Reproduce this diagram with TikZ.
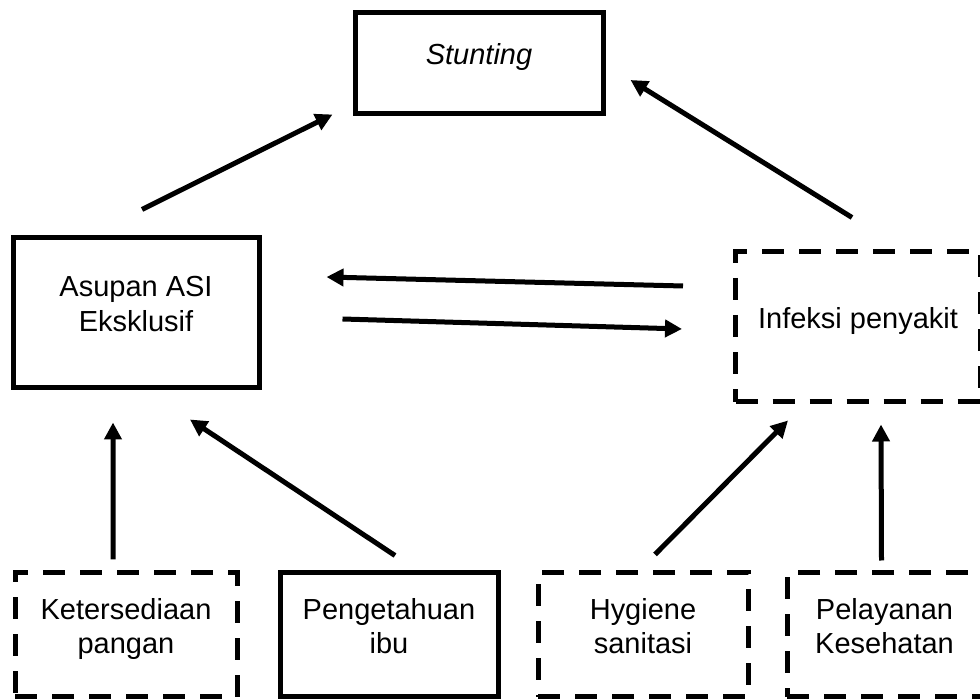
\documentclass[tikz,border=0pt]{standalone}
\usepackage{fontspec}
\setmainfont{Liberation Sans}
\usetikzlibrary{arrows.meta}
\def\botpad{\rule[-0.36cm]{0pt}{0.36cm}}

\begin{document}
\begin{tikzpicture}[
		box/.style={draw, line width=0.1cm, align=center, inner sep=0pt,
			font=\fontsize{16.5}{19.8}\selectfont},
		dbox/.style={box, dash pattern=on 0.44cm off 0.3cm},
		arr/.style={line width=0.1cm, -{Triangle[length=0.34cm,width=0.34cm]}}]
			%%%%% START %%%%%
			\useasboundingbox (0, 0) rectangle (19.6, 14);
			\clip (0, 0) rectangle (19.6, 14);
			
			\node[box, minimum width=4.96cm, minimum height=2.02cm] (stunt) at (9.58, 12.73) {\textit{Stunting}\botpad};
			
			\node[box, minimum width=4.92cm, minimum height=3cm] (asi) at (2.72, 7.74) {Asupan ASI\\Eksklusif\botpad};
			\node[dbox, minimum width=4.9cm, minimum height=3cm] (inf) at (17.16, 7.46) {Infeksi penyakit\botpad};
			
			\node[dbox, minimum width=4.44cm, minimum height=2.48cm] (ket) at (2.52, 1.30) {Ketersediaan\\pangan\botpad};
			\node[box, minimum width=4.36cm, minimum height=2.48cm] (pen) at (7.78, 1.30) {Pengetahuan\\ibu\botpad};
			\node[dbox, minimum width=4.2cm, minimum height=2.48cm] (hyg) at (12.86, 1.30) {Hygiene\\sanitasi\botpad};
			\node[dbox, minimum width=3.9cm, minimum height=2.48cm] (pel) at (17.69, 1.30) {Pelayanan\\Kesehatan\botpad};
			
			\draw[arr] ([shift={(0.12, 0.52)}]asi.north) -- ([shift={(-0.40, 0.04)}]stunt.south west);
			\draw[arr] ([shift={(-0.12, 0.64)}]inf.north) -- ([shift={(0.50, -0.33)}]stunt.east);
			
			\draw[arr] ([shift={(-1.00, 0.82)}]inf.west) -- ([shift={(1.30, 0.72)}]asi.east);
			\draw[arr] ([shift={(1.62, -0.12)}]asi.east) -- ([shift={(-1.02, -0.04)}]inf.west);
			
			\draw[arr] ([shift={(-0.26, 0.22)}]ket.north) -- ([shift={(-0.46, -0.64)}]asi.south);
			\draw[arr] ([shift={(0.12, 0.30)}]pen.north) -- ([shift={(1.08, -0.58)}]asi.south);
			\draw[arr] ([shift={(0.24, 0.32)}]hyg.north) -- ([shift={(-1.40, -0.32)}]inf.south);
			\draw[arr] ([shift={(-0.06, 0.20)}]pel.north) -- ([shift={(0.46, -0.40)}]inf.south);
			%%%%% END %%%%%
\end{tikzpicture}
\end{document}
